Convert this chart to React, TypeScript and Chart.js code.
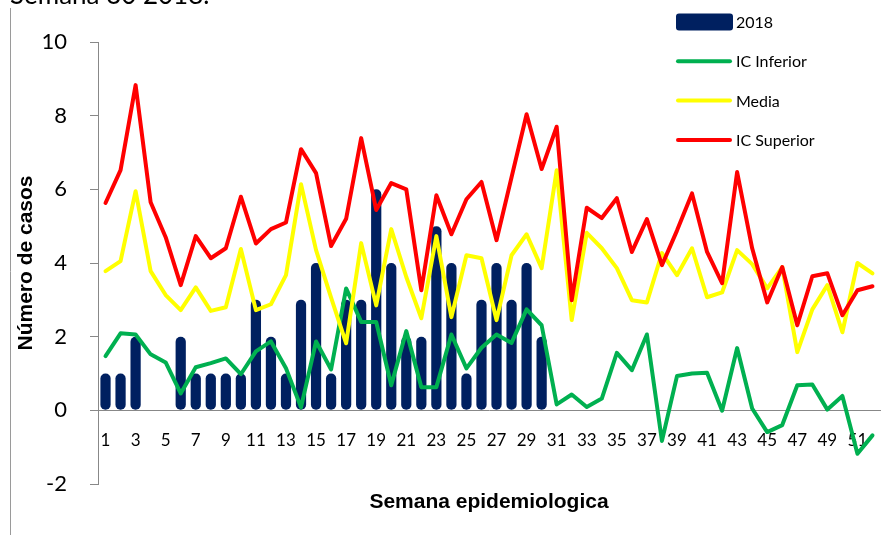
import { useEffect, useRef } from 'react';
import { Chart, registerables } from 'chart.js';

Chart.register(...registerables);

const weeks = ['1','2','3','4','5','6','7','8','9','10','11','12','13','14','15','16','17','18','19','20','21','22','23','24','25','26','27','28','29','30','31','32','33','34','35','36','37','38','39','40','41','42','43','44','45','46','47','48','49','50','51','52'];

const cases2018 = [1,1,2,0,0,2,1,1,1,1,3,2,1,3,4,1,3,3,6,4,2,2,5,4,1,3,4,3,4,2,null,null,null,null,null,null,null,null,null,null,null,null,null,null,null,null,null,null,null,null,null,null];

const icInferior = [1.47,2.09,2.06,1.52,1.3,0.46,1.17,1.28,1.41,0.98,1.6,1.87,1.14,0.08,1.87,1.11,3.31,2.4,2.4,0.68,2.15,0.63,0.63,2.06,1.14,1.7,2.06,1.83,2.74,2.31,0.16,0.43,0.09,0.32,1.56,1.09,2.06,-0.83,0.93,1.0,1.02,-0.01,1.69,0.05,-0.59,-0.4,0.68,0.7,0.02,0.39,-1.18,-0.68];

const media = [3.78,4.05,5.95,3.78,3.13,2.72,3.34,2.7,2.8,4.38,2.72,2.88,3.67,6.14,4.35,3.06,1.82,4.54,2.85,4.92,3.62,2.5,4.73,2.53,4.21,4.13,2.45,4.21,4.78,3.86,6.52,2.45,4.82,4.4,3.86,2.99,2.93,4.27,3.67,4.4,3.07,3.2,4.35,3.97,3.31,3.89,1.58,2.74,3.4,2.12,4.0,3.72];

const icSuperior = [5.63,6.52,8.83,5.65,4.7,3.4,4.73,4.13,4.4,5.8,4.53,4.92,5.1,7.09,6.44,4.46,5.2,7.39,5.44,6.17,6.0,3.26,5.84,4.78,5.73,6.2,4.62,6.33,8.04,6.55,7.7,2.99,5.5,5.22,5.76,4.3,5.19,3.94,4.88,5.89,4.3,3.45,6.47,4.4,2.93,3.89,2.31,3.64,3.72,2.58,3.26,3.37];

const yTicks = [-2, 0, 2, 4, 6, 8, 10];

const NAVY = '#002060';
const GREEN = '#00B050';
const YELLOW = '#FFFF00';
const RED = '#FF0000';
const AXIS = '#888888';

const decorPlugin = {
  id: 'decor',
  beforeDraw(chart: any) {
    const ctx = chart.ctx;
    ctx.save();
    ctx.strokeStyle = '#9a9a9a';
    ctx.lineWidth = 1;
    ctx.beginPath();
    ctx.moveTo(10.5, 8);
    ctx.lineTo(10.5, chart.height);
    ctx.stroke();
    ctx.fillStyle = '#000';
    ctx.font = '26px Lato';
    ctx.textAlign = 'left';
    ctx.textBaseline = 'alphabetic';
    ctx.fillText('Semana 30 2018.', 10, 4);
    ctx.restore();
  },
  afterDraw(chart: any) {
    const ctx = chart.ctx;
    const area = chart.chartArea;
    ctx.save();
    ctx.fillStyle = '#000';
    ctx.font = 'bold 21px "Liberation Sans", Arial';
    ctx.textAlign = 'center';
    ctx.textBaseline = 'middle';
    ctx.fillText('Semana epidemiologica', (area.left + area.right) / 2, area.bottom + 18);
    const x0 = 676;
    const x1 = 732;
    const y0 = 22;
    const gap = 39.3;
    ctx.font = '16px Lato';
    ctx.textAlign = 'left';
    chart.data.datasets.forEach((ds: any, i: number) => {
      const y = y0 + i * gap;
      if (ds.type === 'bar') {
        ctx.fillStyle = ds.backgroundColor;
        ctx.beginPath();
        ctx.roundRect(x0, y - 8.5, x1 - x0 + 1, 17, 3);
        ctx.fill();
      } else {
        ctx.strokeStyle = ds.borderColor;
        ctx.lineWidth = 4;
        ctx.lineCap = 'round';
        ctx.beginPath();
        ctx.moveTo(x0 + 2, y);
        ctx.lineTo(x1 - 2, y);
        ctx.stroke();
      }
      ctx.fillStyle = '#000';
      ctx.fillText(ds.label, 736, y + 1);
    });
    ctx.restore();
  },
};

export default function App() {
  const ref = useRef<HTMLCanvasElement | null>(null);

  useEffect(() => {
    if (!ref.current) return;
    const lineDs = (label: string, data: number[], color: string, order: number) => ({
      type: 'line' as const,
      label,
      data,
      borderColor: color,
      backgroundColor: color,
      borderWidth: 4,
      pointRadius: 0,
      tension: 0,
      borderJoinStyle: 'round' as const,
      borderCapStyle: 'round' as const,
      order,
    });
    const chart = new Chart(ref.current, {
      type: 'bar',
      data: {
        labels: weeks,
        datasets: [
          {
            type: 'bar',
            label: '2018',
            data: cases2018 as any,
            backgroundColor: NAVY,
            borderRadius: 5,
            borderSkipped: false,
            barPercentage: 0.68,
            categoryPercentage: 1,
            order: 4,
          } as any,
          lineDs('IC Inferior', icInferior, GREEN, 3),
          lineDs('Media', media, YELLOW, 2),
          lineDs('IC Superior', icSuperior, RED, 1),
        ],
      },
      options: {
        animation: false,
        responsive: true,
        maintainAspectRatio: false,
        layout: { padding: { left: 0, top: 42, right: 16, bottom: 51 } },
        plugins: { legend: { display: false }, tooltip: { enabled: false } },
        scales: {
          x: {
            type: 'category',
            position: { y: 0 } as any,
            offset: true,
            grid: { display: false, drawTicks: false },
            border: { display: true, color: AXIS, width: 1 },
            ticks: {
              autoSkip: false,
              maxRotation: 0,
              padding: 20,
              color: '#000',
              font: { family: 'Lato', size: 17 },
              callback: (_v: any, i: number) => (i % 2 === 0 ? weeks[i] : ''),
            },
          },
          y: {
            min: -2,
            max: 10,
            afterBuildTicks: (scale: any) => {
              scale.ticks = yTicks.map((v) => ({ value: v }));
            },
            afterFit: (scale: any) => {
              scale.width = 98;
            },
            grid: { display: true, drawOnChartArea: false, drawTicks: true, tickLength: 8, color: AXIS },
            border: { display: true, color: AXIS, width: 1 },
            ticks: {
              padding: 23,
              color: '#000',
              font: { family: 'Lato', size: 22 },
            },
            title: {
              display: true,
              text: 'Número de casos',
              color: '#000',
              font: { family: '"Liberation Sans", Arial', size: 21, weight: 'bold' },
              padding: { top: 14, bottom: 0 },
            },
          },
        },
      },
      plugins: [decorPlugin],
    });
    return () => chart.destroy();
  }, []);

  return (
    <div style={{ position: 'fixed', left: 0, top: 0, width: 896, height: 535, background: '#fff' }}>
      <canvas ref={ref} />
    </div>
  );
}
